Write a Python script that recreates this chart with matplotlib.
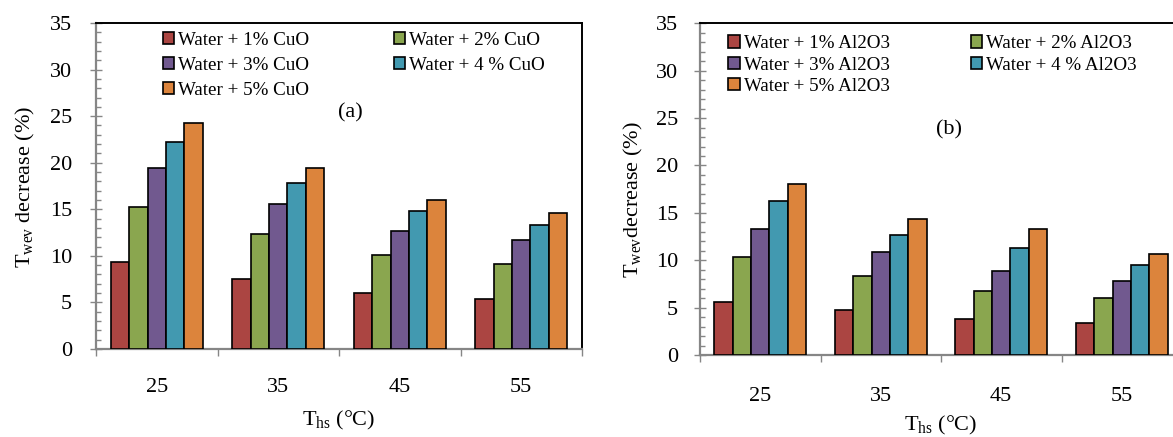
import matplotlib
matplotlib.use("Agg")
import matplotlib.pyplot as plt
import numpy as np

# ---------------- data ----------------
temps = ["25", "35", "45", "55"]

cuo_labels = ["Water + 1% CuO", "Water + 2% CuO", "Water + 3% CuO",
              "Water + 4 % CuO", "Water + 5% CuO"]
cuo_1 = [9.3, 7.5, 6.0, 5.4]
cuo_2 = [15.2, 12.3, 10.1, 9.1]
cuo_3 = [19.4, 15.6, 12.7, 11.7]
cuo_4 = [22.2, 17.8, 14.8, 13.3]
cuo_5 = [24.3, 19.4, 16.0, 14.6]

al_labels = ["Water + 1% Al2O3", "Water + 2% Al2O3", "Water + 3% Al2O3",
             "Water + 4 % Al2O3", "Water + 5% Al2O3"]
al_1 = [5.6, 4.8, 3.8, 3.4]
al_2 = [10.3, 8.3, 6.8, 6.0]
al_3 = [13.3, 10.9, 8.9, 7.8]
al_4 = [16.2, 12.7, 11.3, 9.5]
al_5 = [18.0, 14.4, 13.3, 10.7]

colors = ["#AB4542", "#8AA64F", "#71598F", "#4299B0", "#DC843C"]

# ---------------- style ----------------
plt.rcParams["font.family"] = ["Liberation Serif", "DejaVu Serif"]
plt.rcParams["mathtext.fontset"] = "custom"
plt.rcParams["mathtext.rm"] = "Liberation Serif"
plt.rcParams["mathtext.it"] = "Liberation Serif:italic"
plt.rcParams["mathtext.bf"] = "Liberation Serif:bold"

W, H = 1173, 437
fig = plt.figure(figsize=(W / 100, H / 100), dpi=100)

GRAY = "#868686"


def make_panel(rect, series, labels, tag, tag_xy, ylab, ylab_xy, xlab_y,
               leg_x1, leg_x2, leg_y, labelspacing, ypad, xpad,
               right_black=True):
    ax = fig.add_axes(rect)
    x = np.arange(len(temps))
    bw = 0.152
    bars = []
    for i, (vals, c) in enumerate(zip(series, colors)):
        b = ax.bar(x + (i - 2) * bw, vals, width=bw, color=c,
                   edgecolor="black", linewidth=1.2, label=labels[i], zorder=3)
        bars.append(b)
    ax.set_xlim(-0.5, len(temps) - 0.5)
    ax.set_ylim(0, 35)
    ax.set_yticks(np.arange(0, 36, 5))
    ax.set_yticks(np.arange(0, 36, 1), minor=True)
    ax.set_xticks(np.arange(-0.5, len(temps), 1.0))
    ax.set_xticklabels([])
    ax.set_xticks(x, minor=True)
    ax.set_xticklabels(temps, minor=True)

    ax.tick_params(axis="y", which="major", direction="inout", length=8.6,
                   width=1.0, color=GRAY, labelsize=16, pad=ypad)
    ax.tick_params(axis="y", which="minor", direction="in", length=3.6,
                   width=1.0, color=GRAY)
    ax.tick_params(axis="x", which="major", direction="out", length=5,
                   width=1.0, color=GRAY)
    ax.tick_params(axis="x", which="minor", direction="in", length=3.6,
                   width=1.0, color=GRAY, labelsize=16, pad=xpad)

    ax.spines["left"].set_color(GRAY)
    ax.spines["bottom"].set_color(GRAY)
    ax.spines["left"].set_linewidth(1.6)
    ax.spines["bottom"].set_linewidth(1.6)
    ax.spines["top"].set_color("black")
    ax.spines["top"].set_linewidth(1.4)
    ax.spines["right"].set_color("black")
    ax.spines["right"].set_linewidth(1.4)
    ax.spines["right"].set_visible(right_black)

    ax.text(tag_xy[0], tag_xy[1], tag, transform=ax.transAxes,
            ha="center", va="center", fontsize=16)
    ax.text(ylab_xy[0], ylab_xy[1], ylab, transform=ax.transAxes,
            ha="center", va="center", rotation=90, fontsize=16)
    ax.text(0.5, xlab_y, r"T$_{\mathrm{hs}}$ (°C)", transform=ax.transAxes,
            ha="center", va="center", fontsize=16)

    common = dict(loc="upper left", frameon=False, borderpad=0,
                  borderaxespad=0, handlelength=0.6, handleheight=0.6,
                  handletextpad=0.2, labelspacing=labelspacing,
                  fontsize=13.7)
    leg1 = ax.legend([bars[0], bars[2], bars[4]],
                     [labels[0], labels[2], labels[4]],
                     bbox_to_anchor=(leg_x1, leg_y), **common)
    ax.add_artist(leg1)
    ax.legend([bars[1], bars[3]], [labels[1], labels[3]],
              bbox_to_anchor=(leg_x2, leg_y), **common)
    return ax


make_panel([96 / W, 1 - 349 / H, 486 / W, 326 / H],
           [cuo_1, cuo_2, cuo_3, cuo_4, cuo_5], cuo_labels,
           "(a)", (0.5226, 0.724),
           r"T$_{\mathrm{wev}}$ decrease (%)", (-0.146, 0.497), -0.218,
           0.138, 0.613, 0.973, 0.42, 13, 21)

make_panel([700 / W, 1 - 355 / H, 482 / W, 331.7 / H],
           [al_1, al_2, al_3, al_4, al_5], al_labels,
           "(b)", (0.516, 0.678),
           r"T$_{\mathrm{wev}}$decrease (%)", (-0.139, 0.467), -0.214,
           0.0587, 0.562, 0.964, 0.23, 11.5, 23, right_black=False)

fig.savefig("out.png", dpi=100)
